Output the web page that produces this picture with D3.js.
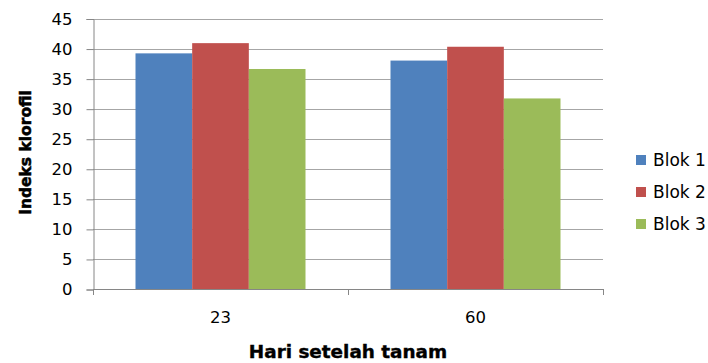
<!DOCTYPE html>
<html>
<head>
<meta charset="utf-8">
<script src="https://cdn.jsdelivr.net/npm/d3@7"></script>
<style>
  html, body { margin: 0; padding: 0; background: #fff; }
  svg { display: block; }
  text { font-family: "DejaVu Sans", Verdana, sans-serif; fill: #000; }
</style>
</head>
<body>
<svg id="chart" width="708" height="363"></svg>
<script>
// Chlorophyll index per block at each sampling day
const days = ["23", "60"];
const series = ["Blok 1", "Blok 2", "Blok 3"];
const blok1 = [39.2, 38.0];
const blok2 = [40.9, 40.3];
const blok3 = [36.6, 31.7];
const colors = ["#4F81BD", "#C0504D", "#9BBB59"];
const yTicks = [0, 5, 10, 15, 20, 25, 30, 35, 40, 45];

const values = [blok1, blok2, blok3];
const rows = days.map((d, i) => ({ day: d, vals: series.map((s, j) => ({ key: s, v: values[j][i], c: colors[j] })) }));

const svg = d3.select("#chart");
const plot = { left: 93, right: 603, top: 18.5, bottom: 289 };

const x0 = d3.scaleBand().domain(days).range([plot.left, plot.right]).paddingInner(0).paddingOuter(0);
const x1 = d3.scaleBand().domain(series).range([0, x0.bandwidth()]).paddingInner(0).paddingOuter(0.75);
const y = d3.scaleLinear().domain([0, 45]).range([plot.bottom, plot.top]);

// horizontal gridlines
svg.append("g").selectAll("line").data(yTicks.slice(1)).join("line")
  .attr("x1", plot.left).attr("x2", plot.right)
  .attr("y1", d => Math.round(y(d)) + 0.5).attr("y2", d => Math.round(y(d)) + 0.5)
  .attr("stroke", "#a6a6a6").attr("stroke-width", 1);

// bars
const groups = svg.append("g").selectAll("g").data(rows).join("g")
  .attr("transform", d => `translate(${x0(d.day)},0)`);
groups.selectAll("rect").data(d => d.vals).join("rect")
  .attr("x", d => x1(d.key))
  .attr("width", x1.bandwidth())
  .attr("y", d => y(d.v))
  .attr("height", d => y(0) - y(d.v))
  .attr("fill", d => d.c);

// y axis
const yAxis = d3.axisLeft(y).tickValues(yTicks).tickSize(7).tickPadding(14).tickFormat(d3.format("d"));
const gy = svg.append("g").attr("transform", `translate(${plot.left + 0.5},0.5)`).call(yAxis);
gy.select(".domain").attr("stroke", "#868686");
gy.selectAll(".tick line").attr("stroke", "#868686");
gy.selectAll(".tick text").style("font-size", "16.5px").attr("fill", "#000");

// x axis: ticks at category boundaries
const xAxisLine = svg.append("g");
xAxisLine.append("line")
  .attr("x1", plot.left).attr("x2", plot.right + 0.5)
  .attr("y1", plot.bottom + 0.5).attr("y2", plot.bottom + 0.5)
  .attr("stroke", "#868686");
const bounds = [x0(days[0]), x0(days[1]), x0(days[1]) + x0.bandwidth()];
xAxisLine.selectAll("line.b").data(bounds).join("line").attr("class", "b")
  .attr("x1", d => Math.round(d) + 0.5).attr("x2", d => Math.round(d) + 0.5)
  .attr("y1", plot.bottom).attr("y2", plot.bottom + 6)
  .attr("stroke", "#868686");
svg.append("g").selectAll("text").data(days).join("text")
  .attr("x", d => x0(d) + x0.bandwidth() / 2)
  .attr("y", 323)
  .attr("text-anchor", "middle")
  .style("font-size", "16.5px")
  .text(d => d);

// axis titles
svg.append("text")
  .attr("transform", `translate(31,${(88 + 217) / 2}) rotate(-90)`)
  .attr("text-anchor", "middle")
  .style("font-size", "15.5px").style("font-weight", "bold")
  .attr("stroke", "#000").attr("stroke-width", 0.5)
  .text("Indeks klorofil");
svg.append("text")
  .attr("x", (plot.left + plot.right) / 2)
  .attr("y", 358)
  .attr("text-anchor", "middle")
  .style("font-size", "18.4px").style("font-weight", "bold")
  .attr("stroke", "#000").attr("stroke-width", 0.4)
  .text("Hari setelah tanam");

// legend
const legend = svg.append("g").selectAll("g").data(series).join("g")
  .attr("transform", (d, i) => `translate(636,${160 + i * 32})`);
legend.append("rect").attr("x", 0).attr("y", -5).attr("width", 10).attr("height", 10)
  .attr("fill", (d, i) => colors[i]);
legend.append("text").attr("x", 17).attr("y", 6)
  .style("font-size", "17px").text(d => d);
</script>
</body>
</html>
